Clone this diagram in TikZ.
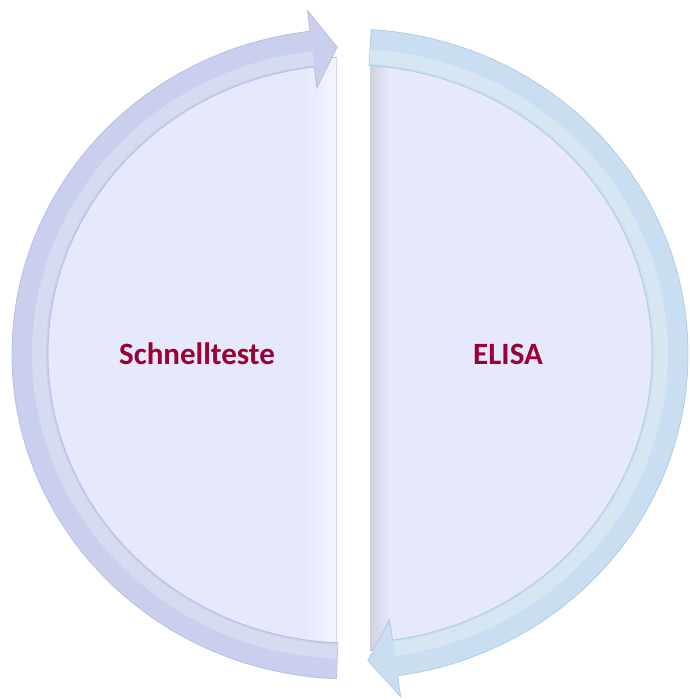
\documentclass[tikz,border=0pt]{standalone}
\usepackage{fontspec}
\setmainfont{Carlito}
\definecolor{discfill}{HTML}{E6E9FB}
\definecolor{leftband}{HTML}{CACFEE}
\definecolor{leftedge}{HTML}{B8BEE5}
\definecolor{rightband}{HTML}{C9DEF0}
\definecolor{rightedge}{HTML}{B0CCE4}
\definecolor{shadowgrey}{HTML}{D0D1DF}
\definecolor{labelred}{HTML}{990033}
\tikzset{
    halfdisc/.style={fill=discfill},
    label text/.style={text=labelred, font=\fontsize{31}{36}\selectfont\bfseries}
}
\begin{document}
\begin{tikzpicture}[x=1pt, y=1pt]
    \useasboundingbox (0, 0) rectangle (689, 700);
    \coordinate (c) at (350, 346);
    \begin{scope}[shift={(c)}]
        % the two half discs
        \path[halfdisc] (92.4:310pt and 297pt) arc[start angle=92.4, end angle=267.6, x radius=310pt, y radius=297pt] -- cycle;
        \path[halfdisc] (86.3:310pt and 297pt) arc[start angle=86.3, end angle=-86.3, x radius=310pt, y radius=297pt] -- cycle;
        \begin{scope}
            \clip (92.4:310pt and 297pt) arc[start angle=92.4, end angle=267.6, x radius=310pt, y radius=297pt] -- cycle;
            \fill[left color=discfill, right color=discfill!45!white] (-45pt, -360pt) rectangle (-13pt, 360pt);
            \draw[leftedge!60, line width=0.8pt] (-13.4pt, -360pt) -- (-13.4pt, 360pt);
        \end{scope}
        \begin{scope}
            \clip (86.3:310pt and 297pt) arc[start angle=86.3, end angle=-86.3, x radius=310pt, y radius=297pt] -- cycle;
            \fill[left color=shadowgrey, right color=discfill] (20pt, -360pt) rectangle (40pt, 360pt);
        \end{scope}
        % left arrow, upwards
        \filldraw[fill=leftband, draw=leftedge, line width=0.8pt, line join=miter]
            (267.7:338pt and 325pt) arc[start angle=267.7, end angle=96.8, x radius=338pt, y radius=325pt]
            -- (96.8:359pt and 346pt) -- (92.3:320pt and 307pt) -- (96.8:281pt and 268pt)
            -- (96.8:302pt and 289pt) arc[start angle=96.8, end angle=267.7, x radius=302pt, y radius=289pt]
            -- cycle;
        \draw[white, opacity=0.25, line width=14pt] (96.8:311pt and 298pt) arc[start angle=96.8, end angle=267.7, x radius=311pt, y radius=298pt];
        % right arrow, downwards
        \filldraw[fill=rightband, draw=rightedge, line width=0.8pt, line join=miter]
            (86.4:338pt and 325pt) arc[start angle=86.4, end angle=-81.9, x radius=338pt, y radius=325pt]
            -- (-81.9:359pt and 346pt) -- (-86.8:320pt and 307pt) -- (-81.9:281pt and 268pt)
            -- (-81.9:302pt and 289pt) arc[start angle=-81.9, end angle=86.4, x radius=302pt, y radius=289pt]
            -- cycle;
        \draw[white, opacity=0.25, line width=14pt] (86.4:311pt and 298pt) arc[start angle=86.4, end angle=-81.9, x radius=311pt, y radius=298pt];
    \end{scope}
    \node[label text] (schnell) at (197, 346) {Schnellteste};
    \node[label text] (elisa) at (508, 346) {ELISA};
\end{tikzpicture}
\end{document}
